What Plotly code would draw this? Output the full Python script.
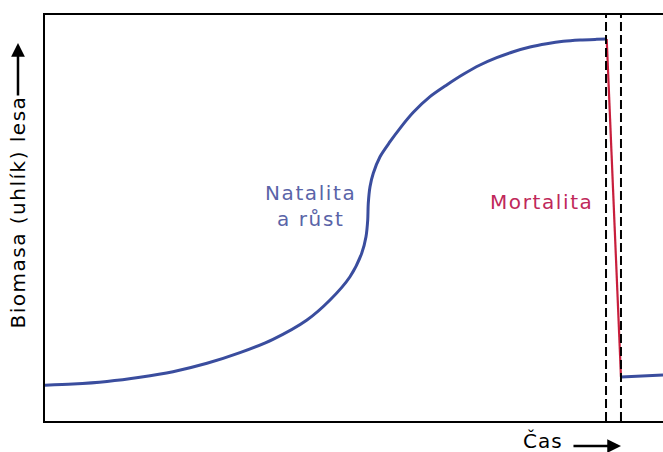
import plotly.graph_objects as go

# growth phase (time, biomass), axes 0..100
growth_t = [0, 4.53, 10.03, 15.37, 20.71, 26.21, 31.55, 36.89, 42.39, 46.12,
            49.35, 51.25, 51.94, 52.22, 52.31, 52.59, 53.12, 54.21, 55.83, 57.44,
            59.60, 62.30, 65.00, 67.69, 70.39, 73.09, 75.78, 78.48, 81.18, 83.87,
            86.57, 89.27, 90.89]
growth_b = [8.82, 9.09, 9.73, 10.76, 12.14, 14.21, 16.82, 20.12, 24.88, 29.80,
            35.54, 41.31, 45.39, 49.51, 53.62, 57.71, 61.01, 65.10, 68.79, 72.09,
            76.03, 79.88, 82.76, 85.39, 87.68, 89.48, 90.96, 92.12, 92.93, 93.52,
            93.84, 94.01, 94.09]
# mortality drop
death_t = [90.89, 93.2]
death_b = [94.09, 10.84]
# regrowth after disturbance
after_t = [93.2, 100]
after_b = [10.84, 11.3]
# dashed bounds of the disturbance
phase_bounds = [90.78, 93.2]

BLUE = "#3a4d9e"
RED = "#c81e3c"
FONT = "DejaVu Sans"


def spaced(txt, sp=1.6):
    return '<span style="letter-spacing:%spx">%s</span>' % (sp, txt)


fig = go.Figure()

for xb in phase_bounds:
    fig.add_vline(x=xb, line_color="black", line_width=2, line_dash="9px,4px")

fig.add_trace(go.Scatter(x=growth_t, y=growth_b, mode="lines", hoverinfo="skip",
                         line=dict(color=BLUE, width=3, shape="spline", smoothing=0.8)))
fig.add_trace(go.Scatter(x=death_t, y=death_b, mode="lines", hoverinfo="skip",
                         line=dict(color=RED, width=2.2)))
fig.add_trace(go.Scatter(x=after_t, y=after_b, mode="lines", hoverinfo="skip",
                         line=dict(color=BLUE, width=3)))

fig.add_annotation(x=42.9, y=53.0, xref="x", yref="y", showarrow=False,
                   xanchor="center", yanchor="middle",
                   text=spaced("Natalita") + "<br>" + spaced("a růst"),
                   font=dict(family=FONT, size=20, color="#5a64a8"), align="center")
fig.add_annotation(x=80.3, y=54.0, xref="x", yref="y", showarrow=False,
                   xanchor="center", yanchor="middle",
                   text=spaced("Mortalita"),
                   font=dict(family=FONT, size=20, color="#c0285a"))

# axis titles with arrows
fig.add_annotation(x=-0.0437, y=0.516, xref="paper", yref="paper", showarrow=False,
                   xanchor="center", yanchor="middle", borderpad=0,
                   text=spaced("Biomasa (uhlík) lesa", 1.5), textangle=-90,
                   font=dict(family=FONT, size=20, color="black"))
fig.add_annotation(x=-0.0437, y=0.931, ax=0, ay=54, xref="paper", yref="paper",
                   text="", showarrow=True, arrowhead=2, arrowsize=1.1,
                   arrowwidth=2.5, arrowcolor="black")
fig.add_annotation(x=0.8066, y=-0.05, xref="paper", yref="paper", showarrow=False,
                   xanchor="center", yanchor="middle", borderpad=0,
                   text=spaced("Čas", 1.0),
                   font=dict(family=FONT, size=20, color="black"))
fig.add_annotation(x=0.932, y=-0.0616, ax=-49, ay=0, xref="paper", yref="paper",
                   text="", showarrow=True, arrowhead=2, arrowsize=1.1,
                   arrowwidth=2.5, arrowcolor="black")

fig.update_xaxes(range=[0, 100], showline=True, linecolor="black", linewidth=2,
                 mirror=True, showgrid=False, zeroline=False, showticklabels=False,
                 ticks="")
fig.update_yaxes(range=[0, 100], showline=True, linecolor="black", linewidth=2,
                 showgrid=False, zeroline=False, showticklabels=False, ticks="")

fig.update_layout(width=663, height=452, showlegend=False, hovermode=False,
                  margin=dict(l=45, r=0, t=15, b=31),
                  plot_bgcolor="white", paper_bgcolor="white")

# drop the default page margin so the figure fills the window
fig.write_html("out.html", config={"displayModeBar": False},
               post_script="document.body.style.margin='0px';")
